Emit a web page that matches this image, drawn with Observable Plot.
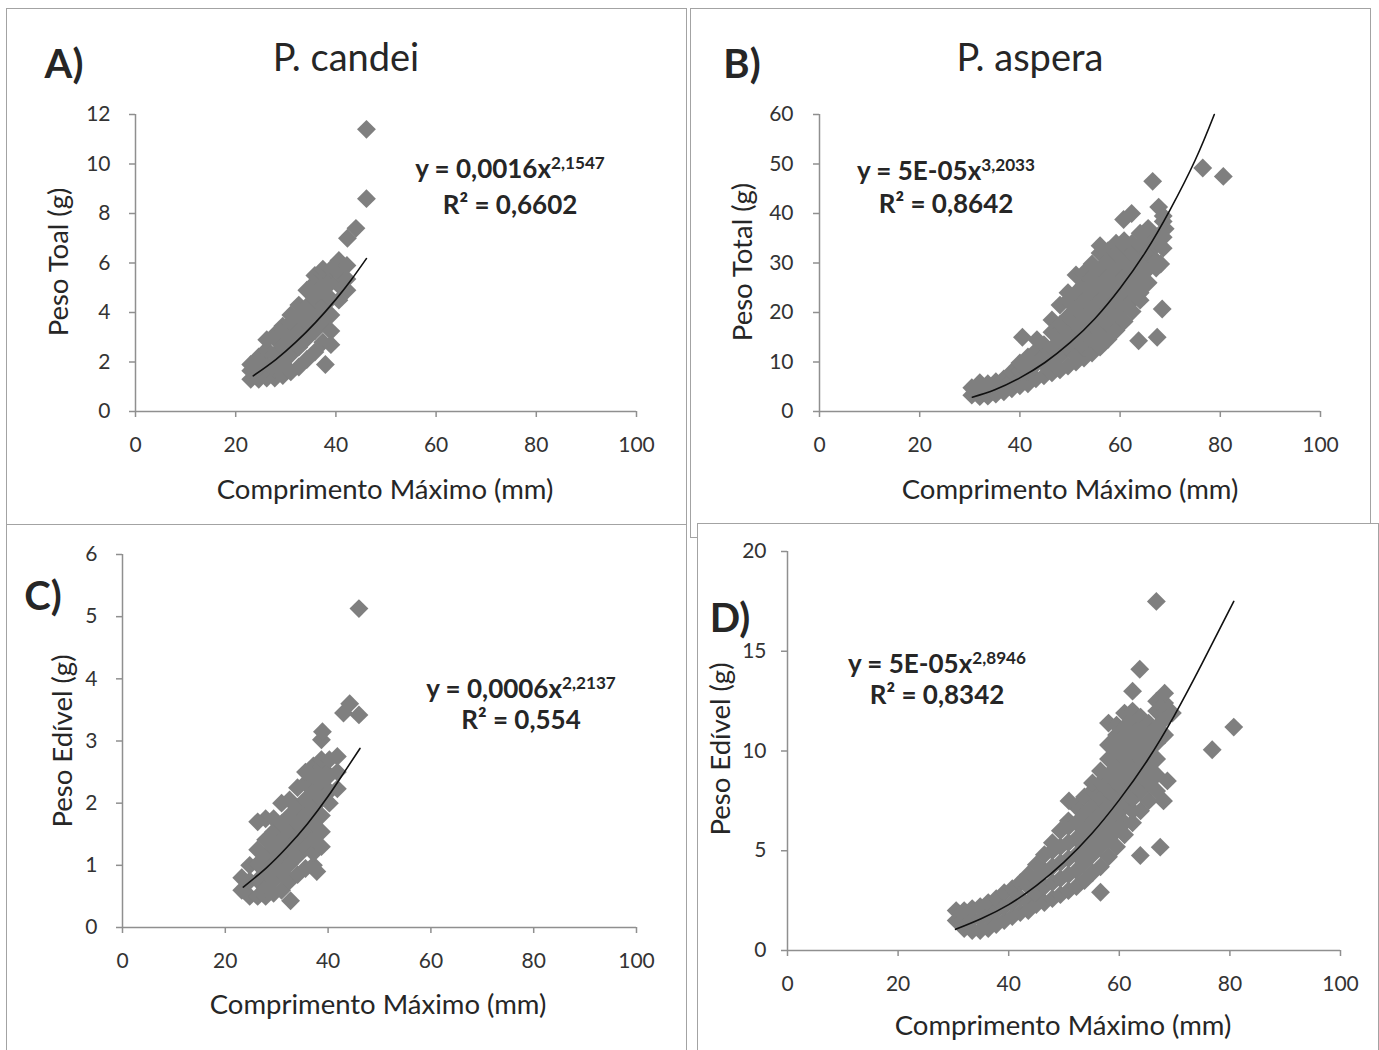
<!DOCTYPE html>
<html><head><meta charset="utf-8">
<script src="https://cdn.jsdelivr.net/npm/d3@7"></script>
<script src="https://cdn.jsdelivr.net/npm/@observablehq/plot@0.6"></script>
<style>
html,body{margin:0;padding:0;background:#fff;}
#page{position:relative;width:1379px;height:1050px;overflow:hidden;background:#fff;font-family:Lato,"Open Sans",sans-serif;color:#262626;}
.frame{position:absolute;box-sizing:border-box;border:1.5px solid #a3a3a3;background:#fff;}
.wrap{position:absolute;}
.t{position:absolute;white-space:nowrap;transform:translate(-50%,-50%);line-height:1;}
.sup{font-size:0.66em;position:relative;top:-0.55em;}
</style></head>
<body><div id="page"></div>
<script>
// ---------- data ----------
const xTicks = [0, 20, 40, 60, 80, 100];
const yTicksA = [0, 2, 4, 6, 8, 10, 12];
const yTicksB = [0, 10, 20, 30, 40, 50, 60];
const yTicksC = [0, 1, 2, 3, 4, 5, 6];
const yTicksD = [0, 5, 10, 15, 20];

const panelLetters = ["A)", "B)", "C)", "D)"];
const speciesTitles = ["P. candei", "P. aspera"];
const xTitle = "Comprimento Máximo (mm)";
const yTitles = ["Peso Toal (g)", "Peso Total (g)", "Peso Edível (g)", "Peso Edível (g)"];
const eqMain = ["y = 0,0016x", "y = 5E-05x", "y = 0,0006x", "y = 5E-05x"];
const eqExp = ["2,1547", "3,2033", "2,2137", "2,8946"];
const eqR2 = ["R² = 0,6602", "R² = 0,8642", "R² = 0,554", "R² = 0,8342"];

// Points, grouped by length (x) -> weights (y)
// P. candei – Peso Total
const candeiTotalCols = [
  [23.0, [1.3, 1.65, 1.9]],
  [24.6, [1.3, 1.7, 2.2]],
  [26.2, [1.35, 1.9, 2.5, 2.9]],
  [27.8, [1.35, 1.7, 2.3, 2.95, 3.1]],
  [29.4, [1.45, 1.95, 2.6, 3.25, 3.45]],
  [31.0, [1.6, 2.3, 2.95, 3.6, 3.9]],
  [32.6, [1.8, 2.6, 3.25, 3.9, 4.3]],
  [34.2, [2.1, 2.95, 3.6, 4.25, 4.9]],
  [35.8, [2.4, 3.25, 3.9, 4.55, 5.2, 5.5]],
  [37.4, [2.8, 3.6, 4.25, 4.9, 5.55, 5.75]],
  [39.0, [2.7, 3.25, 3.9, 4.55, 5.2, 5.75]],
  [40.6, [4.5, 5.1, 5.6, 6.1]],
  [42.2, [4.9, 5.35, 5.9]]
];
const candeiTotalExtra = [[37.9, 1.9], [42.3, 7.0], [44.0, 7.4], [46.1, 8.6], [46.1, 11.4]];
const candeiTotalTrend = [[23.5, 1.44], [28, 2.1], [32, 2.8], [36, 3.61], [40, 4.53], [43, 5.3], [46.1, 6.18]];

// P. aspera – Peso Total
const asperaTotalCols = [
  [30.4, [3.3, 4.8]],
  [32.0, [3.0, 4.8, 5.8]],
  [33.6, [3.1, 4.4, 5.6]],
  [35.2, [3.5, 4.8, 6.0]],
  [36.8, [4.0, 5.3, 6.6]],
  [38.4, [4.6, 6.4, 8.0]],
  [40.0, [5.2, 6.6, 8.2, 9.8]],
  [41.6, [5.6, 8.0, 9.6, 11.0]],
  [43.2, [6.6, 9.6, 12.2]],
  [44.8, [7.2, 9.6, 11.2, 13.5]],
  [46.4, [7.8, 9.6, 12.8, 16.0, 18.5]],
  [48.0, [8.4, 11.2, 14.4, 17.6, 21.5]],
  [49.6, [9.2, 12.8, 16.0, 19.2, 22.4, 24.0]],
  [51.2, [10.0, 11.2, 14.4, 17.6, 20.8, 24.0, 27.6]],
  [52.8, [10.8, 12.8, 16.0, 19.2, 22.4, 25.6, 28.0]],
  [54.4, [11.8, 14.4, 17.6, 20.8, 24.0, 27.2, 29.8]],
  [56.0, [13.0, 16.0, 19.2, 22.4, 25.6, 28.8, 32.0, 33.5]],
  [57.6, [14.6, 17.6, 20.8, 24.0, 27.2, 30.4, 32.5]],
  [59.2, [16.4, 19.2, 22.4, 25.6, 28.8, 32.0, 34.0]],
  [60.8, [18.2, 20.8, 24.0, 27.2, 30.4, 33.6, 34.5]],
  [62.4, [20.2, 22.4, 25.6, 28.8, 32.0, 34.0]],
  [64.0, [22.5, 24.0, 27.2, 30.4, 33.6, 36.0]],
  [65.6, [26.0, 28.8, 32.0, 35.2, 37.0]],
  [67.2, [29.0, 30.4, 33.6, 35.0]],
  [68.6, [33.0, 35.2, 38.4, 39.5]]
];
const asperaTotalExtra = [[40.5, 15.0], [43.4, 14.5], [60.7, 38.8], [62.3, 40.0], [63.7, 14.3], [67.4, 15.0], [68.1, 29.8], [68.4, 20.7], [69.0, 36.9], [66.5, 46.5], [67.7, 41.3], [76.5, 49.2], [80.6, 47.5]];
const asperaTotalTrend = [[30.5, 2.9], [35, 4.4], [40, 6.8], [45, 9.9], [50, 13.9], [55, 18.8], [60, 24.9], [65, 32.1], [70, 40.8], [75, 50.8], [78.8, 60]];

// P. candei – Peso Edível
const candeiEdibleCols = [
  [23.2, [0.6, 0.8]],
  [24.75, [0.5, 0.75, 1.0]],
  [26.3, [0.5, 0.76, 1.02, 1.25]],
  [27.85, [0.5, 0.63, 0.89, 1.15, 1.41, 1.75]],
  [29.4, [0.55, 0.76, 1.02, 1.28, 1.54, 1.75]],
  [30.95, [0.6, 0.89, 1.15, 1.41, 1.67, 2.0]],
  [32.5, [0.75, 1.02, 1.28, 1.54, 1.8, 2.05]],
  [34.05, [0.85, 1.15, 1.41, 1.67, 1.93, 2.25]],
  [35.6, [0.95, 1.28, 1.54, 1.8, 2.06, 2.32, 2.5]],
  [37.15, [1.0, 1.2, 1.41, 1.67, 1.93, 2.19, 2.45, 2.6]],
  [38.7, [1.3, 1.54, 1.8, 2.06, 2.32, 2.58, 2.7]],
  [40.25, [2.0, 2.19, 2.45, 2.7]],
  [41.8, [2.23, 2.5, 2.75]]
];
const candeiEdibleExtra = [[26.3, 1.7], [32.7, 0.43], [37.8, 0.9], [38.7, 3.02], [38.9, 3.15], [43.0, 3.45], [44.2, 3.6], [46.0, 3.42], [46.0, 5.13]];
const candeiEdibleTrend = [[23.5, 0.65], [28, 0.96], [32, 1.29], [36, 1.67], [40, 2.11], [43, 2.48], [46.2, 2.88]];

// P. aspera – Peso Edível
const asperaEdibleCols = [
  [30.5, [1.5, 2.0]],
  [31.95, [1.1, 1.6, 2.0]],
  [33.4, [1.0, 1.55, 2.1]],
  [34.85, [1.0, 1.6, 2.2]],
  [36.3, [1.1, 1.75, 2.4]],
  [37.75, [1.3, 2.0, 2.6]],
  [39.2, [1.5, 2.2, 2.9]],
  [40.65, [1.7, 2.4, 3.1]],
  [42.1, [1.9, 2.65, 3.4]],
  [43.55, [2.0, 2.4, 3.2, 3.8]],
  [45.0, [2.3, 2.8, 3.6, 4.3]],
  [46.45, [2.4, 3.2, 4.0, 4.8]],
  [47.9, [2.6, 3.4, 4.2, 5.0, 5.4]],
  [49.35, [2.8, 3.6, 4.4, 5.2, 6.0]],
  [50.8, [3.0, 3.8, 4.6, 5.4, 6.2, 6.5]],
  [52.25, [3.2, 4.0, 4.8, 5.6, 6.4, 7.2]],
  [53.7, [3.5, 4.4, 5.2, 6.0, 6.8, 7.7]],
  [55.15, [3.9, 4.8, 5.6, 6.4, 7.2, 8.0, 8.4]],
  [56.6, [4.2, 5.2, 6.0, 6.8, 7.6, 8.4, 9.0]],
  [58.05, [4.7, 5.6, 6.4, 7.2, 8.0, 8.8, 9.6, 10.3, 11.4]],
  [59.5, [5.2, 6.0, 6.8, 7.6, 8.4, 9.2, 10.0, 10.8, 11.3]],
  [60.95, [5.8, 6.4, 7.2, 8.0, 8.8, 9.6, 10.4, 11.2, 11.9]],
  [62.4, [6.4, 7.0, 7.6, 8.4, 9.2, 10.0, 10.8, 11.6, 12.0, 13.0]],
  [63.85, [7.0, 8.0, 8.8, 9.6, 10.4, 11.2, 11.7]],
  [65.3, [7.5, 8.4, 9.2, 10.0, 10.8, 11.4]],
  [66.75, [8.0, 8.8, 9.6, 10.4, 11.2, 12.0, 12.5]],
  [68.2, [10.8, 11.6, 12.4, 12.9]]
];
const asperaEdibleExtra = [[50.9, 7.5], [56.6, 2.92], [63.8, 4.76], [67.4, 5.18], [68.0, 7.5], [68.7, 8.5], [69.6, 11.9], [63.7, 14.1], [66.7, 17.5], [76.8, 10.06], [80.7, 11.2]];
const asperaEdibleTrend = [[30.4, 1.06], [35, 1.59], [40, 2.3], [45, 3.25], [50, 4.43], [55, 5.85], [60, 7.55], [65, 9.5], [70, 11.8], [75, 14.4], [80.7, 17.5]];

const toPoints = (cols, extra) => cols.flatMap(([x, ys]) => ys.map(y => [x, y])).concat(extra);

// ---------- drawing ----------
const page = document.getElementById("page");
const axisGray = "#8f8f8f";
const labelColor = "#333333";
const markerColor = "#7f7f7f";

function frame(l, t, w, h) {
  const d = document.createElement("div");
  d.className = "frame";
  Object.assign(d.style, {left: l + "px", top: t + "px", width: w + "px", height: h + "px"});
  page.appendChild(d);
}
function text(html, cx, cy, size, weight, rot) {
  const d = document.createElement("div");
  d.className = "t";
  d.innerHTML = html;
  Object.assign(d.style, {left: cx + "px", top: cy + "px", fontSize: size + "px", fontWeight: weight || 400});
  if (rot) d.style.transform = "translate(-50%,-50%) rotate(-90deg)";
  page.appendChild(d);
}
function panel(cfg) {
  const svg = Plot.plot({
    width: cfg.w, height: cfg.h,
    marginLeft: cfg.ml, marginRight: cfg.mr, marginTop: cfg.mt, marginBottom: cfg.mb,
    x: {domain: [0, 100], label: null},
    y: {domain: [0, cfg.ymax], label: null},
    style: {fontFamily: "Lato, 'Open Sans', sans-serif", color: labelColor, background: "transparent", overflow: "visible"},
    marks: [
      Plot.axisX({ticks: xTicks, tickSize: 6, tickPadding: cfg.xpad, fontSize: 21, stroke: axisGray, fill: labelColor, strokeWidth: 1.5, tickFormat: d => String(d), label: null}),
      Plot.axisY({ticks: cfg.yTicks, tickSize: 6, tickPadding: cfg.ypad, fontSize: 21, stroke: axisGray, fill: labelColor, strokeWidth: 1.5, tickFormat: d => String(d), label: null}),
      Plot.ruleX([0], {stroke: axisGray, strokeWidth: 1.5}),
      Plot.ruleY([0], {stroke: axisGray, strokeWidth: 1.5}),
      Plot.dot(cfg.data, {x: d => d[0], y: d => d[1], symbol: d3.symbolDiamond2, r: 8.5, fill: markerColor, stroke: "none"}),
      Plot.line(cfg.trend, {x: d => d[0], y: d => d[1], curve: "natural", stroke: "#111", strokeWidth: 1.6})
    ]
  });
  const w = document.createElement("div");
  w.className = "wrap";
  w.style.left = cfg.left + "px";
  w.style.top = cfg.top + "px";
  w.appendChild(svg);
  page.appendChild(w);
}

// frames (D drawn last so that it covers the bottom of B)
frame(6, 8, 681, 517);
frame(690, 8, 681, 530);
frame(6, 524, 681, 560);
frame(697, 523, 682, 560);

panel({left: 0, top: 0, w: 690, h: 520, ml: 135, mr: 54, mt: 114, mb: 109, ymax: 12, yTicks: yTicksA, data: toPoints(candeiTotalCols, candeiTotalExtra), trend: candeiTotalTrend, xpad: 20, ypad: 19});
panel({left: 690, top: 0, w: 689, h: 520, ml: 129, mr: 59, mt: 114, mb: 109, ymax: 60, yTicks: yTicksB, data: toPoints(asperaTotalCols, asperaTotalExtra), trend: asperaTotalTrend, xpad: 20, ypad: 20});
panel({left: 0, top: 524, w: 690, h: 526, ml: 122, mr: 54, mt: 30, mb: 123, ymax: 6, yTicks: yTicksC, data: toPoints(candeiEdibleCols, candeiEdibleExtra), trend: candeiEdibleTrend, xpad: 20, ypad: 19});
panel({left: 690, top: 524, w: 689, h: 526, ml: 97, mr: 39, mt: 27, mb: 100, ymax: 20, yTicks: yTicksD, data: toPoints(asperaEdibleCols, asperaEdibleExtra), trend: asperaEdibleTrend, xpad: 20, ypad: 15});

// letters and titles
text(panelLetters[0], 64, 63, 40, 700);
text(panelLetters[1], 742, 63, 40, 700);
text(panelLetters[2], 43, 595, 40, 700);
text(panelLetters[3], 730, 617, 40, 700);
text(speciesTitles[0], 346, 56, 38, 400);
text(speciesTitles[1], 1030, 56, 38, 400);

// equations
const eqPos = [[510, 168, 204], [946, 170, 203], [521, 688, 719], [937, 663, 694]];
eqPos.forEach((p, i) => {
  text(eqMain[i] + '<span class="sup">' + eqExp[i] + '</span>', p[0], p[1], 26, 700);
  text(eqR2[i], p[0], p[2], 26, 700);
});

// axis titles
text(xTitle, 385, 489, 27.5, 400);
text(xTitle, 1070, 489, 27.5, 400);
text(xTitle, 378, 1004, 27.5, 400);
text(xTitle, 1063, 1025, 27.5, 400);
text(yTitles[0], 58, 262, 27.5, 400, true);
text(yTitles[1], 742, 262, 27.5, 400, true);
text(yTitles[2], 62, 741, 27.5, 400, true);
text(yTitles[3], 720, 749, 27.5, 400, true);
</script>
</body></html>
